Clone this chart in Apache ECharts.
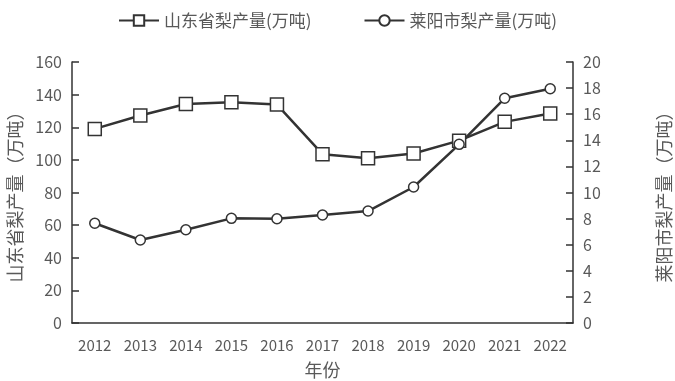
<!DOCTYPE html>
<html><head><meta charset="utf-8">
<script src="https://cdn.jsdelivr.net/npm/echarts@6/dist/echarts.min.js"></script>
<style>html,body{margin:0;padding:0;background:#fff}#c{width:675px;height:381px}</style>
</head><body><div id="c"></div>
<script>
const years = ['2012','2013','2014','2015','2016','2017','2018','2019','2020','2021','2022'];
const shandong = [119, 127.2, 134.2, 135.4, 133.9, 103.5, 101, 103.9, 111.8, 123.3, 128.4];
const laiyang = [7.64, 6.36, 7.15, 8.02, 7.99, 8.28, 8.58, 10.42, 13.69, 17.22, 17.95];
const seriesNames = ['山东省梨产量(万吨)', '莱阳市梨产量(万吨)'];
const leftName = '山东省梨产量（万吨）';
const rightName = '莱阳市梨产量（万吨）';
const xName = '年份';

const font = "'Noto Sans CJK SC', 'Noto Sans', sans-serif";
const axisColor = '#333';
const labelColor = '#595959';
const chart = echarts.init(document.getElementById('c'));
chart.setOption({
  animation: false,
  textStyle: {fontFamily: font},
  legend: {
    top: 7, left: 'center', itemGap: 52, itemWidth: 40, itemHeight: 13,
    textStyle: {fontSize: 17, color: labelColor, fontFamily: font},
    data: seriesNames
  },
  grid: {left: 72, right: 102, top: 62, bottom: 58, containLabel: false, outerBoundsMode: 'none'},
  xAxis: {
    type: 'category', data: years, boundaryGap: true,
    name: xName, nameLocation: 'middle', nameGap: 38,
    nameTextStyle: {fontSize: 18, color: labelColor},
    axisLine: {lineStyle: {color: axisColor, width: 1.5}},
    axisTick: {inside: true, length: 6, interval: 0, lineStyle: {color: axisColor, width: 1.5}},
    axisLabel: {fontSize: 15, color: labelColor, margin: 15, interval: 0, hideOverlap: false}
  },
  yAxis: [{
    type: 'value', min: 0, max: 160, interval: 20,
    name: leftName, nameLocation: 'middle', nameRotate: 90, nameGap: 36,
    nameTextStyle: {fontSize: 18, color: labelColor},
    axisLine: {show: true, lineStyle: {color: axisColor, width: 1.5}},
    axisTick: {show: true, inside: true, length: 7, lineStyle: {color: axisColor, width: 1.5}},
    axisLabel: {fontSize: 16, color: labelColor, margin: 10},
    splitLine: {show: false}
  }, {
    type: 'value', min: 0, max: 20, interval: 2, position: 'right',
    name: rightName, nameLocation: 'middle', nameRotate: 90, nameGap: 82,
    nameTextStyle: {fontSize: 18, color: labelColor},
    axisLine: {show: true, lineStyle: {color: axisColor, width: 1.5}},
    axisTick: {show: true, inside: true, length: 7, lineStyle: {color: axisColor, width: 1.5}},
    axisLabel: {fontSize: 16, color: labelColor, margin: 10},
    splitLine: {show: false}
  }],
  series: [{
    name: seriesNames[0], type: 'line', yAxisIndex: 0, data: shandong,
    symbol: 'rect', symbolSize: 13,
    itemStyle: {color: '#fff', borderColor: '#333', borderWidth: 1.5},
    lineStyle: {color: '#333', width: 2.5}
  }, {
    name: seriesNames[1], type: 'line', yAxisIndex: 1, data: laiyang,
    symbol: 'circle', symbolSize: 10,
    itemStyle: {color: '#fff', borderColor: '#333', borderWidth: 1.5},
    lineStyle: {color: '#333', width: 2.5}
  }]
});
</script></body></html>
